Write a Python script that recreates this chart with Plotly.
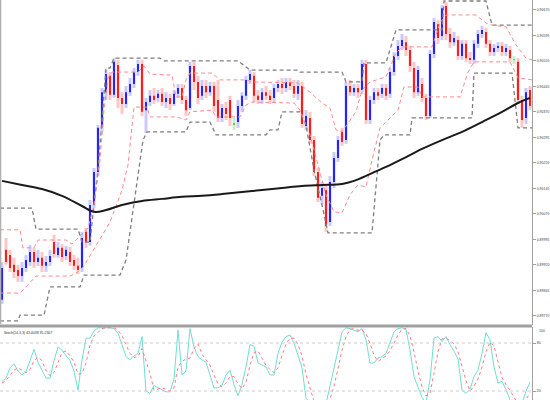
import plotly.graph_objects as go

# OHLC in price points (1e-5), one bar per candle
opens = [
    89817, 89964, 89949, 89920, 89905, 89887, 89911, 89928, 89958, 89928,
    89941, 89917, 89928, 89987, 89949, 89970, 89946, 89958, 89934, 89917,
    89911, 90017, 89987, 90096, 90193, 90323, 90428, 90476, 90420, 90508,
    90411, 90393, 90428, 90452, 90487, 90511, 90375, 90399, 90417, 90411,
    90423, 90399, 90411, 90393, 90423, 90440, 90405, 90381, 90505, 90458,
    90417, 90446, 90428, 90446, 90405, 90352, 90381, 90405, 90334, 90340,
    90387, 90417, 90464, 90476, 90417, 90405, 90428, 90417, 90411, 90440,
    90452, 90440, 90458, 90446, 90423, 90446, 90328, 90352, 90287, 90193,
    90123, 90140, 90046, 90164, 90234, 90311, 90287, 90446, 90428, 90440,
    90434, 90511, 90346, 90405, 90428, 90423, 90440, 90423, 90487, 90534,
    90564, 90575, 90552, 90499, 90428, 90452, 90411, 90358, 90540, 90628,
    90593, 90681, 90599, 90575, 90581, 90534, 90570, 90528, 90523, 90570,
    90599, 90605, 90570, 90546, 90558, 90564, 90546, 90552, 90523, 90517,
    90405, 90352, 90434,
]
closes = [
    89911, 89928, 89911, 89899, 89887, 89911, 89934, 89958, 89928, 89941,
    89917, 89928, 89946, 89952, 89970, 89943, 89964, 89928, 89917, 89905,
    89999, 89987, 90096, 90193, 90323, 90428, 90481, 90420, 90517, 90411,
    90393, 90428, 90452, 90487, 90511, 90370, 90399, 90417, 90405, 90423,
    90399, 90411, 90393, 90423, 90440, 90405, 90375, 90505, 90458, 90411,
    90446, 90428, 90446, 90387, 90352, 90381, 90364, 90352, 90334, 90387,
    90417, 90464, 90481, 90417, 90405, 90428, 90417, 90405, 90440, 90452,
    90440, 90458, 90446, 90423, 90446, 90334, 90358, 90287, 90193, 90117,
    90146, 90034, 90164, 90234, 90287, 90281, 90446, 90428, 90440, 90428,
    90511, 90346, 90405, 90428, 90417, 90440, 90417, 90487, 90534, 90564,
    90581, 90552, 90505, 90428, 90493, 90411, 90358, 90540, 90634, 90587,
    90675, 90599, 90575, 90587, 90534, 90570, 90528, 90523, 90570, 90599,
    90611, 90570, 90546, 90558, 90564, 90546, 90558, 90528, 90523, 90405,
    90346, 90428, 90387,
]
highs = [
    89928, 89999, 89964, 89941, 89920, 89928, 89949, 89978, 89970, 89964,
    89958, 89946, 89964, 90008, 89987, 89981, 89976, 89973, 89949, 89941,
    90017, 90028, 90111, 90205, 90331, 90440, 90493, 90487, 90528, 90523,
    90428, 90446, 90470, 90499, 90523, 90523, 90411, 90434, 90440, 90434,
    90440, 90428, 90423, 90434, 90452, 90452, 90417, 90517, 90517, 90476,
    90464, 90464, 90458, 90458, 90464, 90393, 90399, 90417, 90352, 90405,
    90428, 90476, 90493, 90487, 90434, 90440, 90446, 90434, 90452, 90464,
    90470, 90470, 90470, 90464, 90464, 90458, 90375, 90370, 90299, 90205,
    90164, 90152, 90181, 90252, 90299, 90323, 90458, 90464, 90452, 90452,
    90523, 90523, 90417, 90440, 90440, 90452, 90452, 90499, 90546, 90581,
    90599, 90593, 90564, 90517, 90505, 90470, 90423, 90552, 90646, 90640,
    90684, 90693, 90617, 90605, 90593, 90581, 90581, 90546, 90581, 90611,
    90623, 90617, 90581, 90570, 90575, 90575, 90570, 90564, 90534, 90528,
    90417, 90440, 90446,
]
lows = [
    89805, 89920, 89899, 89881, 89870, 89870, 89899, 89917, 89911, 89917,
    89899, 89899, 89917, 89941, 89941, 89928, 89934, 89917, 89905, 89893,
    89899, 89970, 89976, 90087, 90181, 90311, 90405, 90405, 90411, 90381,
    90364, 90381, 90417, 90440, 90476, 90358, 90308, 90387, 90393, 90399,
    90387, 90381, 90375, 90387, 90411, 90393, 90358, 90375, 90434, 90393,
    90405, 90411, 90417, 90370, 90340, 90340, 90346, 90328, 90317, 90323,
    90370, 90405, 90452, 90399, 90393, 90393, 90405, 90393, 90399, 90428,
    90423, 90428, 90434, 90411, 90405, 90323, 90317, 90276, 90181, 90105,
    90099, 90017, 90034, 90146, 90223, 90270, 90276, 90417, 90417, 90411,
    90423, 90334, 90334, 90393, 90405, 90411, 90405, 90411, 90476, 90523,
    90552, 90534, 90487, 90411, 90417, 90399, 90346, 90352, 90528, 90570,
    90581, 90581, 90558, 90564, 90523, 90523, 90517, 90511, 90511, 90558,
    90587, 90558, 90534, 90534, 90546, 90534, 90534, 90517, 90511, 90393,
    90323, 90334, 90375,
]

# channel lines: (bar index, price points) at their corners
upper_ch_x = [-0.5, 7.5, 8.5, 19, 20, 22, 23, 24, 25, 26, 27, 28, 39.5, 40.5, 59, 62, 74,
              74.5, 85, 86, 90, 90.5, 96, 97, 98.5, 110, 110.5, 121, 122.5, 132.5]
upper_ch_y = [90087, 90087, 90025, 90025, 89987, 89987, 90096, 90199, 90346, 90499, 90499,
              90528, 90528, 90520, 90520, 90493, 90493, 90487, 90487, 90458, 90458, 90514,
              90514, 90552, 90611, 90611, 90696, 90696, 90625, 90625]
lower_ch_x = [-0.5, 4, 4.5, 10.5, 12, 19.5, 20.5, 29.5, 31, 35.25, 36.25, 46, 47, 52, 53.5,
              66, 67, 69, 70, 74.5, 76, 78, 80, 81.5, 92.5, 94.5, 95.5, 102, 102.5, 117.5,
              118, 127.5, 129, 132.5]
lower_ch_y = [89755, 89755, 89772, 89772, 89855, 89855, 89890, 89890, 89934, 90287, 90311,
              90311, 90340, 90340, 90302, 90302, 90317, 90317, 90370, 90370, 90331, 90199,
              90096, 90014, 90014, 90287, 90302, 90302, 90352, 90352, 90484, 90484, 90323,
              90323]

upper_band_x = [-0.5, 4.5, 5.25, 8, 9, 16, 17.5, 19.5, 21.5, 23, 24.5, 25.5, 26.5, 27.5, 34,
                35.5, 37, 42.5, 43.5, 45, 46, 47, 52.5, 54.5, 61, 62.5, 74, 77, 80, 82, 83.5,
                85, 88.5, 90, 92, 96, 98.5, 100, 107.5, 109.5, 111, 118.5, 121, 122.5, 126,
                128.5, 131, 132.5]
upper_band_y = [90023, 90023, 89970, 89970, 89993, 89993, 89981, 90005, 90028, 90096, 90228,
                90375, 90470, 90487, 90487, 90505, 90481, 90478, 90414, 90414, 90464, 90484,
                90484, 90464, 90464, 90458, 90455, 90428, 90396, 90381, 90317, 90311, 90370,
                90434, 90458, 90473, 90543, 90561, 90561, 90631, 90655, 90655, 90631, 90625,
                90620, 90567, 90528, 90523]
lower_band_x = [-0.5, 4.5, 6.5, 8.5, 17, 19, 20.5, 23.5, 27, 30, 31.5, 33, 36.25, 37, 43.75,
                46, 47, 52.5, 53.5, 59.5, 61, 62.5, 73, 74.5, 77, 79, 81, 83, 85, 87, 89, 91,
                92.5, 94.5, 96.5, 99, 100.5, 104, 105, 114.5, 116.5, 118, 127, 129, 132.5]
lower_band_y = [89837, 89837, 89861, 89887, 89887, 89899, 89917, 89978, 90046, 90140, 90214,
                90384, 90384, 90355, 90355, 90346, 90370, 90375, 90355, 90355, 90390, 90399,
                90396, 90375, 90302, 90214, 90126, 90076, 90073, 90126, 90155, 90149, 90228,
                90323, 90346, 90375, 90443, 90443, 90414, 90414, 90487, 90517, 90517, 90470,
                90464]

ma_x = [0, 5, 10, 15, 20, 23, 26, 30, 35, 40, 45, 50, 55, 60, 65, 70, 75, 80, 85, 88, 92,
        96, 100, 105, 110, 115, 120, 125, 129, 132]
ma_y = [90167, 90155, 90143, 90123, 90093, 90076, 90081, 90096, 90108, 90114, 90120, 90123,
        90128, 90134, 90140, 90146, 90152, 90155, 90158, 90167, 90187, 90208, 90231, 90261,
        90287, 90311, 90340, 90370, 90396, 90411]

stoch_k = [
    32, 36, 49, 54, 45, 40, 44, 58, 72, 56, 45, 36, 36, 58, 75, 71, 64, 58, 45, 21,
    59, 86, 86, 95, 99, 99, 99, 99, 98, 92, 78, 63, 59, 64, 67, 88, 20, 17, 27, 24,
    22, 19, 19, 35, 96, 40, 45, 98, 75, 63, 59, 56, 40, 24, 24, 27, 40, 46, 28, 14,
    28, 50, 78, 76, 55, 52, 50, 40, 40, 67, 81, 88, 90, 80, 63, 49, 11, 6, 4, 3,
    2, 4, 25, 48, 71, 94, 99, 98, 96, 94, 98, 84, 55, 55, 61, 63, 67, 80, 94, 98,
    99, 97, 71, 38, 25, 12, 5, 34, 86, 88, 82, 88, 78, 70, 60, 21, 17, 22, 38, 46,
    67, 93, 84, 50, 30, 32, 22, 9, 4, 3, 4, 20, 31,
]
stoch_d = [
    30, 33, 40, 46, 49, 46, 43, 47, 58, 62, 58, 46, 39, 43, 56, 68, 70, 64, 56, 41,
    42, 55, 77, 89, 93, 98, 99, 99, 99, 96, 89, 78, 67, 62, 63, 73, 58, 42, 21, 23,
    24, 22, 20, 24, 50, 57, 60, 61, 73, 79, 66, 59, 52, 40, 29, 25, 30, 38, 38, 29,
    23, 31, 52, 68, 70, 61, 52, 47, 43, 49, 63, 79, 86, 86, 78, 64, 41, 22, 7, 4,
    3, 3, 10, 26, 48, 71, 88, 97, 98, 96, 96, 92, 79, 65, 57, 60, 64, 70, 80, 90,
    97, 98, 89, 69, 45, 25, 14, 17, 42, 69, 85, 86, 83, 79, 69, 50, 33, 20, 26, 35,
    50, 69, 81, 76, 55, 37, 28, 21, 12, 5, 4, 9, 18,
]

price_ticks = [0.90670, 0.90595, 0.90520, 0.90445, 0.90370, 0.90295, 0.90220, 0.90145,
               0.90070, 0.89995, 0.89920, 0.89845, 0.89770]
stoch_levels = [80, 20]
stoch_label = "Stoch(14,3,3) 43.4038 35.2307"


def to_price(points):
    return [p / 1e5 for p in points]


idx = list(range(len(closes)))
o, h, l, c = to_price(opens), to_price(highs), to_price(lows), to_price(closes)

body_col, wick_col = [], []
for oo, cc in zip(o, c):
    if cc > oo:
        body_col.append('#2424ff'); wick_col.append('#cacaff')
    elif cc < oo:
        body_col.append('#ff1c1c'); wick_col.append('#ffc6c6')
    else:
        body_col.append('#5ad25a'); wick_col.append('#c8efc8')

fig = go.Figure()

# light wicks, then dark bodies on top
fig.add_trace(go.Bar(x=idx, base=l, y=[hh - ll for hh, ll in zip(h, l)], width=0.75,
                     marker=dict(color=wick_col, line_width=0)))
fig.add_trace(go.Bar(x=idx, base=[min(a, b) for a, b in zip(o, c)],
                     y=[max(abs(a - b), 0.00001) for a, b in zip(o, c)], width=0.5,
                     marker=dict(color=body_col, line_width=0)))

gray = dict(color='#7f7f7f', width=1.3, dash='4px,3px')
pink = dict(color='#ff8a8a', width=1, dash='4px,3px')
fig.add_trace(go.Scatter(x=upper_ch_x, y=to_price(upper_ch_y), mode='lines', line=gray))
fig.add_trace(go.Scatter(x=lower_ch_x, y=to_price(lower_ch_y), mode='lines', line=gray))
fig.add_trace(go.Scatter(x=upper_band_x, y=to_price(upper_band_y), mode='lines', line=pink))
fig.add_trace(go.Scatter(x=lower_band_x, y=to_price(lower_band_y), mode='lines', line=pink))
fig.add_trace(go.Scatter(x=ma_x, y=to_price(ma_y), mode='lines',
                         line=dict(color='#1a1a1a', width=2, shape='spline')))

# stochastic panel
fig.add_trace(go.Scatter(x=idx, y=stoch_k, mode='lines', xaxis='x2', yaxis='y2',
                         line=dict(color='#6fded4', width=1)))
fig.add_trace(go.Scatter(x=idx, y=stoch_d, mode='lines', xaxis='x2', yaxis='y2',
                         line=dict(color='#ff7a7a', width=1, dash='dot')))

for lv in stoch_levels:
    fig.add_shape(type='line', xref='x2', yref='y2', x0=-0.5, x1=132.5, y0=lv, y1=lv,
                  line=dict(color='#cccccc', width=1, dash='dot'))

x_dom = [0, 532 / 550]
fig.add_shape(type='line', xref='paper', yref='paper', x0=0, x1=x_dom[1], y0=0.185, y1=0.185,
              line=dict(color='#a0a0a0', width=3))
fig.add_shape(type='line', xref='paper', yref='paper', x0=0.001, x1=0.001, y0=0.19, y1=1,
              line=dict(color='#b0b0b0', width=1.5))

fig.add_annotation(xref='paper', yref='paper', x=0.004, y=0.178, text=stoch_label,
                   showarrow=False, xanchor='left', yanchor='top',
                   font=dict(family='Liberation Sans', size=3.5, color='#303030'))
fig.add_annotation(xref='paper', yref='y2', x=x_dom[1] + 0.009, y=100, text='100',
                   showarrow=False, xanchor='left', yanchor='top',
                   font=dict(family='Liberation Sans', size=3.5, color='#404040'))

axis_style = dict(side='right', showline=True, linecolor='#a0a0a0', linewidth=1,
                  ticks='outside', ticklen=3, tickcolor='#a0a0a0', showgrid=False,
                  zeroline=False,
                  tickfont=dict(family='Liberation Sans', size=3.5, color='#404040'))

fig.update_layout(
    width=550, height=400, margin=dict(l=0, r=0, t=0, b=0),
    template='none', paper_bgcolor='white', plot_bgcolor='white',
    showlegend=False, barmode='overlay',
    xaxis=dict(domain=x_dom, range=[-0.5, 132.5], visible=False, anchor='y'),
    xaxis2=dict(domain=x_dom, range=[-0.5, 132.5], visible=False, anchor='y2', matches='x'),
    yaxis=dict(domain=[0.1875, 1], range=[0.89743, 0.90699], anchor='x',
               tickvals=price_ticks, ticktext=[f"{v:.5f}" for v in price_ticks], **axis_style),
    yaxis2=dict(domain=[0, 0.1825], range=[8.75, 100], anchor='x2',
                tickvals=stoch_levels, ticktext=[str(v) for v in stoch_levels], **axis_style),
)

# the page body has a default 8px margin; drop it so the chart sits at the window corner
fig.write_html("out.html", config={'displayModeBar': False},
               post_script="document.body.style.margin='0';")
